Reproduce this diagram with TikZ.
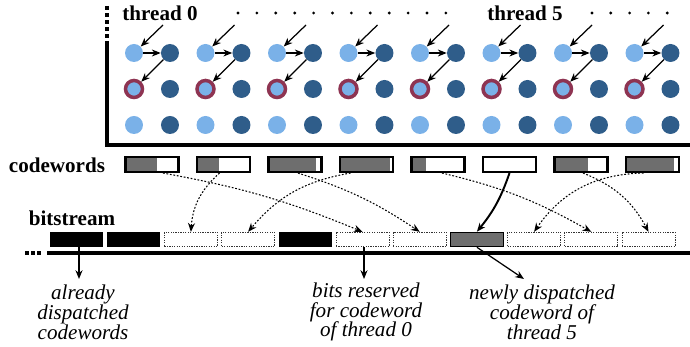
\documentclass[tikz,border=0pt]{standalone}
\usepackage{fontspec}
\setmainfont{Liberation Serif}
\usetikzlibrary{arrows.meta,positioning,calc}
\definecolor{litedot}{HTML}{7AB1E8}
\definecolor{darkdot}{HTML}{2F5D8A}
\definecolor{ringred}{HTML}{8E3452}
\definecolor{cwgray}{HTML}{6E6E6E}

\begin{document}
\begin{tikzpicture}[
			x=0.02cm, y=-0.02cm,
			node distance=0.72cm, on grid,
			lite/.style={circle,fill=litedot,minimum size=0.36cm,inner sep=0pt},
			dark/.style={circle,fill=darkdot,minimum size=0.36cm,inner sep=0pt},
			ring/.style={circle,fill=litedot,draw=ringred,line width=2pt,minimum size=0.34cm,inner sep=0pt},
			arr/.style={-{Stealth[length=5pt,width=4pt]},line width=0.7pt},
			lnk/.style={-{Stealth[length=5pt,width=4pt]},dash pattern=on 1pt off 1pt,line width=0.6pt},
			frame/.style={line width=2pt},
			lbl/.style={font=\fontsize{12}{14}\selectfont\bfseries,inner sep=0pt},
			note/.style={font=\fontsize{12}{11.3}\selectfont\itshape,align=center,inner sep=0pt},
			cword/.style={draw,line width=1.2pt,minimum width=1.06cm,minimum height=0.3cm,inner sep=0pt},
			bsbox/.style={minimum width=1.06cm,minimum height=0.29cm,inner sep=0pt},
			bsdone/.style={bsbox,fill=black},
			bsfree/.style={bsbox,draw=black!80,dash pattern=on 0.7pt off 0.7pt,line width=0.5pt},
			bsnew/.style={bsbox,fill=cwgray,draw=black,line width=0.6pt}
			]
			\useasboundingbox (0,0) rectangle (690,347);
			\draw[frame] (107,41) -- (107,145) -- (690,145);
			\draw[frame,dash pattern=on 2pt off 2pt] (107,6) -- (107,38);
			\node[lbl] (t0) at (160,13) {thread 0};
			\node[lbl] (t5) at (525,13) {thread 5};
			\foreach \j in {0,...,11} \fill (238+18.9*\j,13) circle (0.9pt);
			\foreach \j in {0,...,4} \fill (592+18.8*\j,13) circle (0.9pt);
			\foreach \i in {1,...,8}{
				\node[lite] (la\i) at ({134+71.5*(\i-1)},53) {};
				\node[dark] (da\i) [right=of la\i] {};
				\node[ring] (lb\i) [below=of la\i] {};
				\node[dark] (db\i) [right=of lb\i] {};
				\node[lite] (lc\i) [below=of lb\i] {};
				\node[dark] (dc\i) [right=of lc\i] {};
				\coordinate (in\i) at ($(la\i)+(29,-28)$);
				\draw[arr] (in\i) -- (la\i);
				\draw[arr] (la\i) -- (da\i);
				\draw[arr] (da\i) -- (lb\i);
			}
			\node[lbl] (cwl) at (57,165) {codewords};
			\foreach \i/\f in {1/0.6,2/0.42,3/0.9,4/0.94,5/0.28,6/0,7/0.63,8/0.9}{
				\fill[cwgray] ({152+71.5*(\i-1)-26.5},157) rectangle +({53*\f},15);
				\node[cword] (cw\i) at ({152+71.5*(\i-1)},164.5) {};
			}
			\node[lbl] (bsl) at (72,218) {bitstream};
			\foreach \i/\s in {1/bsdone,2/bsdone,3/bsfree,4/bsfree,5/bsdone,6/bsfree,7/bsfree,8/bsnew,9/bsfree,10/bsfree,11/bsfree}
				\node[\s] (bs\i) at ({76.5+57.2*(\i-1)},239.5) {};
			\draw[frame] (47,253) -- (690,253);
			\draw[frame,dash pattern=on 2.3pt off 1.2pt] (25,253) -- (42,253);
			\path
			([xshift=0.22cm]cw1.south) edge[lnk,bend left=6] (bs6.north)
			([xshift=-0.08cm]cw2.south) edge[lnk,bend right=22] (bs3.north)
			([xshift=0.06cm]cw3.south) edge[lnk,bend left=8] (bs7.north)
			([xshift=-0.32cm]cw4.south) edge[lnk,bend right=20] (bs4.north)
			([xshift=0.08cm]cw5.south) edge[lnk,bend left=8] (bs10.north)
			(cw6.south) edge[arr,line width=1.1pt,bend left=10] (bs8.north)
			([xshift=0.04cm]cw7.south) edge[lnk,bend left=20] (bs11.north)
			([xshift=-0.18cm]cw8.south) edge[lnk,bend right=27] (bs9.north);
			\node[note] (old) at (83,312) {already\\dispatched\\codewords};
			\node[note] (rsv) at (366,312) {bits reserved\\for codeword\\of thread 0};
			\node[note] (newd) at (542,312) {newly dispatched\\codeword of\\thread 5};
			\coordinate (oldtip) at (79,279);
			\coordinate (rsvtip) at (364,279);
			\coordinate (newtip) at (524,279);
			\draw[arr] (bs1.south -| oldtip) -- (oldtip);
			\draw[arr] (bs6.south -| rsvtip) -- (rsvtip);
			\draw[arr] (bs8.south) -- (newtip);
		\end{tikzpicture}
\end{document}
